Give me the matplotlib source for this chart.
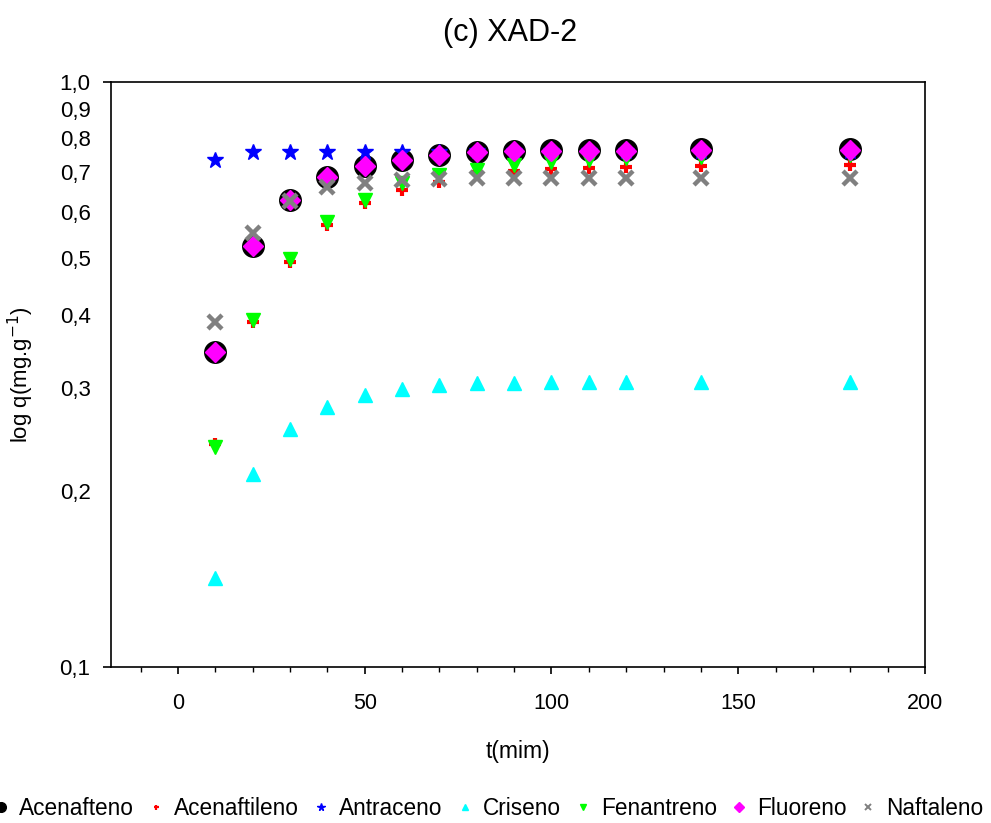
import matplotlib
matplotlib.use("Agg")
import matplotlib.pyplot as plt
from matplotlib.ticker import FixedLocator, FixedFormatter

plt.rcParams['font.family'] = ['Liberation Sans', 'DejaVu Sans']

# tempo (min)
t = [10, 20, 30, 40, 50, 60, 70, 80, 90, 100, 110, 120, 140, 180]

# q (mg/g) por composto
acenafteno = [0.345, 0.524, 0.628, 0.687, 0.718, 0.735, 0.749, 0.758, 0.761, 0.764, 0.764, 0.764, 0.767, 0.767]
acenaftileno = [0.240, 0.388, 0.492, 0.569, 0.620, 0.653, 0.675, 0.700, 0.705, 0.708, 0.713, 0.715, 0.718, 0.720]
antraceno = [0.735, 0.758, 0.758, 0.758, 0.758, 0.758, 0.758, 0.760, 0.760, 0.760, 0.760, 0.760, 0.760, 0.760]
criseno = [0.142, 0.214, 0.255, 0.278, 0.292, 0.298, 0.303, 0.306, 0.306, 0.307, 0.307, 0.307, 0.307, 0.307]
fenantreno = [0.2375, 0.391, 0.497, 0.575, 0.628, 0.671, 0.693, 0.706, 0.720, 0.729, 0.735, 0.740, 0.745, 0.750]
fluoreno = [0.345, 0.524, 0.628, 0.687, 0.718, 0.735, 0.749, 0.757, 0.760, 0.762, 0.762, 0.762, 0.765, 0.765]
naftaleno = [0.388, 0.551, 0.625, 0.661, 0.671, 0.679, 0.682, 0.685, 0.685, 0.685, 0.685, 0.685, 0.685, 0.685]

ytick_vals = [0.1, 0.2, 0.3, 0.4, 0.5, 0.6, 0.7, 0.8, 0.9, 1.0]
ytick_labels = ['0,1', '0,2', '0,3', '0,4', '0,5', '0,6', '0,7', '0,8', '0,9', '1,0']

fig = plt.figure(figsize=(9.91, 8.23), dpi=100)
ax = fig.add_axes([0.1117, 0.1896, 0.8217, 0.7111])

ax.plot(t, acenafteno, 'o', color='black', ms=15.5, mec='black', ls='none', label='Acenafteno')
ax.plot(t, acenaftileno, '+', color='red', ms=8, mew=3, ls='none', label='Acenaftileno')
ax.plot(t, antraceno, '*', color='blue', ms=12, mec='blue', ls='none', label='Antraceno')
ax.plot(t, criseno, '^', color='cyan', ms=10, mec='cyan', ls='none', label='Criseno')
ax.plot(t, fenantreno, 'v', color='lime', ms=10, mec='lime', ls='none', label='Fenantreno')
ax.plot(t, fluoreno, 'D', color='magenta', ms=10.5, mec='magenta', ls='none', label='Fluoreno')
ax.plot(t, naftaleno, 'x', color='gray', ms=9.5, mew=3.2, ls='none', label='Naftaleno')

ax.set_yscale('log')
ax.set_ylim(0.1, 1.0)
ax.set_xlim(-18, 200)

# so 0,1 e 1,0 tem traco; os outros rotulos ficam sem traco
ax.yaxis.set_major_locator(FixedLocator([0.1, 1.0]))
ax.yaxis.set_major_formatter(FixedFormatter(['0,1', '1,0']))
ax.yaxis.set_minor_locator(FixedLocator(ytick_vals[1:-1]))
ax.yaxis.set_minor_formatter(FixedFormatter(ytick_labels[1:-1]))
ax.tick_params(axis='y', which='major', direction='out', length=5.5, width=1.2, labelsize=16, pad=9)
ax.tick_params(axis='y', which='minor', length=0, labelsize=16, pad=14.5)

ax.set_xticks([0, 50, 100, 150, 200])
ax.set_xticks(range(-10, 200, 10), minor=True)
ax.tick_params(axis='x', which='major', direction='out', length=5, width=1.2, labelsize=15.5, pad=14)
ax.tick_params(axis='x', which='minor', direction='out', length=3.6, width=1.0)

for s in ax.spines.values():
    s.set_linewidth(1.2)

ax.set_xlabel('t(mim)', fontsize=16.5, labelpad=18.5)
ax.set_ylabel('log q(mg.g$^{-1}$)', fontsize=16, labelpad=17)
ax.set_title('(c) XAD-2', fontsize=22, pad=29, x=0.49)

leg = fig.legend(loc='center', bbox_to_anchor=(0.4935, 0.018), ncol=7, frameon=False,
                 fontsize=16.3, markerscale=0.45, handlelength=0.6, handletextpad=0.49,
                 columnspacing=0.68, borderaxespad=0, borderpad=0)
# cruzes finas na legenda
leg.legend_handles[1].set_markeredgewidth(1.6)
leg.legend_handles[6].set_markeredgewidth(1.4)

fig.savefig('out.png', dpi=100)
